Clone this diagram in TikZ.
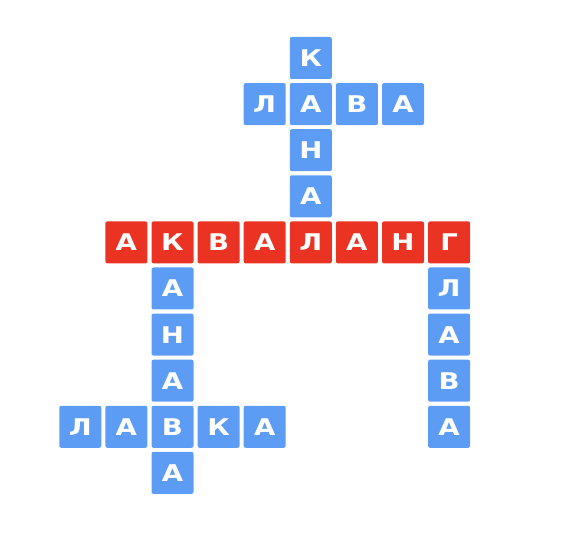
\documentclass[tikz,border=0pt]{standalone}
\usepackage{fontspec}
\newfontfamily\cellfont[FakeStretch=1.2]{DejaVu Sans Bold}
\definecolor{cellred}{RGB}{234,51,35}
\definecolor{cellblue}{RGB}{93,156,245}
\tikzset{
  cellbase/.style={rectangle, rounded corners=2pt, minimum width=42pt, minimum height=42pt,
    inner sep=0pt, text=white, font=\cellfont\fontsize{23}{23}\selectfont,
    text height=16.8pt, text depth=0pt},
  redcell/.style={cellbase, fill=cellred},
  bluecell/.style={cellbase, fill=cellblue}
}
\newcommand{\cwcell}[5]{\node[#5] (#1) at ({80.3+46.1*#2},{58+46.1*#3}) {#4};}
\begin{document}
\begin{tikzpicture}[x=1pt,y=-1pt]
\useasboundingbox (0,0) rectangle (576,548);
% КАНАЛ (vertical) and ЛАВА
\cwcell{v1k}{5}{0}{К}{bluecell}
\cwcell{h1l}{4}{1}{Л}{bluecell}
\cwcell{v1a}{5}{1}{А}{bluecell}
\cwcell{h1v}{6}{1}{В}{bluecell}
\cwcell{h1a}{7}{1}{А}{bluecell}
\cwcell{v1n}{5}{2}{Н}{bluecell}
\cwcell{v1a2}{5}{3}{А}{bluecell}
% АКВАЛАНГ
\cwcell{m1}{1}{4}{А}{redcell}
\cwcell{m2}{2}{4}{К}{redcell}
\cwcell{m3}{3}{4}{В}{redcell}
\cwcell{m4}{4}{4}{А}{redcell}
\cwcell{m5}{5}{4}{Л}{redcell}
\cwcell{m6}{6}{4}{А}{redcell}
\cwcell{m7}{7}{4}{Н}{redcell}
\cwcell{m8}{8}{4}{Г}{redcell}
% КАНАВА
\cwcell{v2a}{2}{5}{А}{bluecell}
\cwcell{v2n}{2}{6}{Н}{bluecell}
\cwcell{v2a2}{2}{7}{А}{bluecell}
\cwcell{v2a3}{2}{9}{А}{bluecell}
% ЛАВКА
\cwcell{h2l}{0}{8}{Л}{bluecell}
\cwcell{h2a}{1}{8}{А}{bluecell}
\cwcell{h2v}{2}{8}{В}{bluecell}
\cwcell{h2k}{3}{8}{К}{bluecell}
\cwcell{h2a2}{4}{8}{А}{bluecell}
% ГЛАВА
\cwcell{v3l}{8}{5}{Л}{bluecell}
\cwcell{v3a}{8}{6}{А}{bluecell}
\cwcell{v3v}{8}{7}{В}{bluecell}
\cwcell{v3a2}{8}{8}{А}{bluecell}
\end{tikzpicture}
\end{document}
